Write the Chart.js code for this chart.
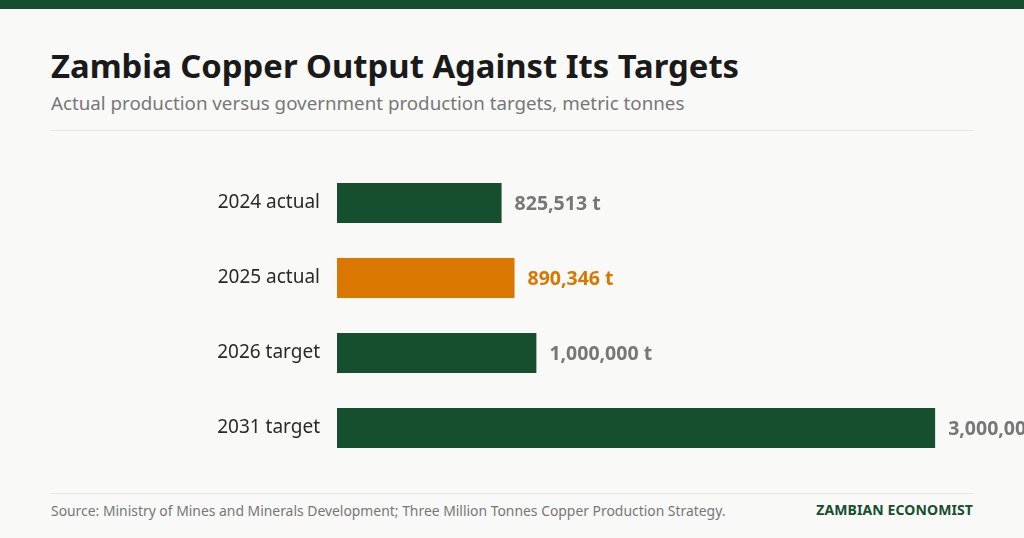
<!DOCTYPE html>
<html lang="en">
<head>
    <meta charset="UTF-8">
    <title>Zambia Copper Output Against Its Targets</title>
    <script src="https://cdn.jsdelivr.net/npm/chart.js"></script>
    <style>
        /* Page frame: green strip on top, off-white card */
        html, body { margin: 0; padding: 0; }
        body {
            width: 1024px; height: 538px; overflow: hidden; position: relative;
            background: #f9f9f7; font-family: "Noto Sans", sans-serif;
            border-top: 9px solid #154f2e; box-sizing: border-box;
        }
        h1 {
            position: absolute; left: 51px; top: 34px; margin: 0;
            font-size: 32.8px; font-weight: 700; color: #1a1a1a; white-space: nowrap;
        }
        .subtitle {
            position: absolute; left: 51px; top: 81px; margin: 0;
            font-size: 18.75px; color: #777; white-space: nowrap;
        }
        .rule { position: absolute; left: 51px; width: 922px; height: 1px; background: #e4e4e2; }
        .chart-box { position: absolute; left: 0; top: 122px; width: 1024px; height: 350px; }
        .source {
            position: absolute; left: 51px; top: 492px; font-size: 13.9px; color: #777; white-space: nowrap;
        }
        .brand {
            position: absolute; right: 51px; top: 491px; font-size: 14px; font-weight: 700;
            color: #154f2e; letter-spacing: 0.1px; white-space: nowrap;
        }
    </style>
</head>
<body>
    <h1>Zambia Copper Output Against Its Targets</h1>
    <p class="subtitle">Actual production versus government production targets, metric tonnes</p>
    <div class="rule" style="top:121px"></div>

    <div class="chart-box"><canvas id="copperChart"></canvas></div>

    <div class="rule" style="top:484px"></div>
    <div class="source">Source: Ministry of Mines and Minerals Development; Three Million Tonnes Copper Production Strategy.</div>
    <div class="brand">ZAMBIAN ECONOMIST</div>

    <script>
        // Chart data
        const categories = ["2024 actual", "2025 actual", "2026 target", "2031 target"];
        const tonnes = [825513, 890346, 1000000, 3000000];
        const valueLabels = ["825,513 t", "890,346 t", "1,000,000 t", "3,000,000 t"];

        const green = "#154f2e";
        const orange = "#d97700";
        const barColors = [green, orange, green, green];
        const labelColors = ["#777", orange, "#777", "#777"];

        // Writes the value text just right of each bar
        const valueLabelPlugin = {
            id: "valueLabels",
            afterDatasetsDraw(chart) {
                const ctx = chart.ctx;
                const meta = chart.getDatasetMeta(0);
                ctx.save();
                ctx.font = "bold 19.5px 'Noto Sans'";
                ctx.textAlign = "left";
                ctx.textBaseline = "middle";
                meta.data.forEach((bar, i) => {
                    ctx.fillStyle = labelColors[i];
                    ctx.fillText(valueLabels[i], bar.x + 13, bar.y + 1);
                });
                ctx.restore();
            }
        };

        new Chart(document.getElementById("copperChart"), {
            type: "bar",
            data: {
                labels: categories,
                datasets: [{
                    data: tonnes,
                    backgroundColor: barColors,
                    borderWidth: 0,
                    barPercentage: 0.8,
                    categoryPercentage: 0.667
                }]
            },
            options: {
                indexAxis: "y",
                responsive: true,
                maintainAspectRatio: false,
                animation: false,
                layout: { padding: { top: 34.5, bottom: 15.5, left: 0, right: 49 } },
                scales: {
                    x: { display: false, min: 0, max: 3200000 },
                    y: {
                        grid: { display: false, drawTicks: false },
                        border: { display: false },
                        ticks: {
                            padding: 17,
                            color: "#2a2a2a",
                            font: { family: "Noto Sans", size: 19 }
                        },
                        // fixed axis width, and no extra label padding above/below
                        afterFit(scale) {
                            scale.width = 337;
                            scale.paddingTop = 0;
                            scale.paddingBottom = 0;
                        }
                    }
                },
                plugins: {
                    legend: { display: false },
                    tooltip: { enabled: false }
                }
            },
            plugins: [valueLabelPlugin]
        });
    </script>
</body>
</html>
